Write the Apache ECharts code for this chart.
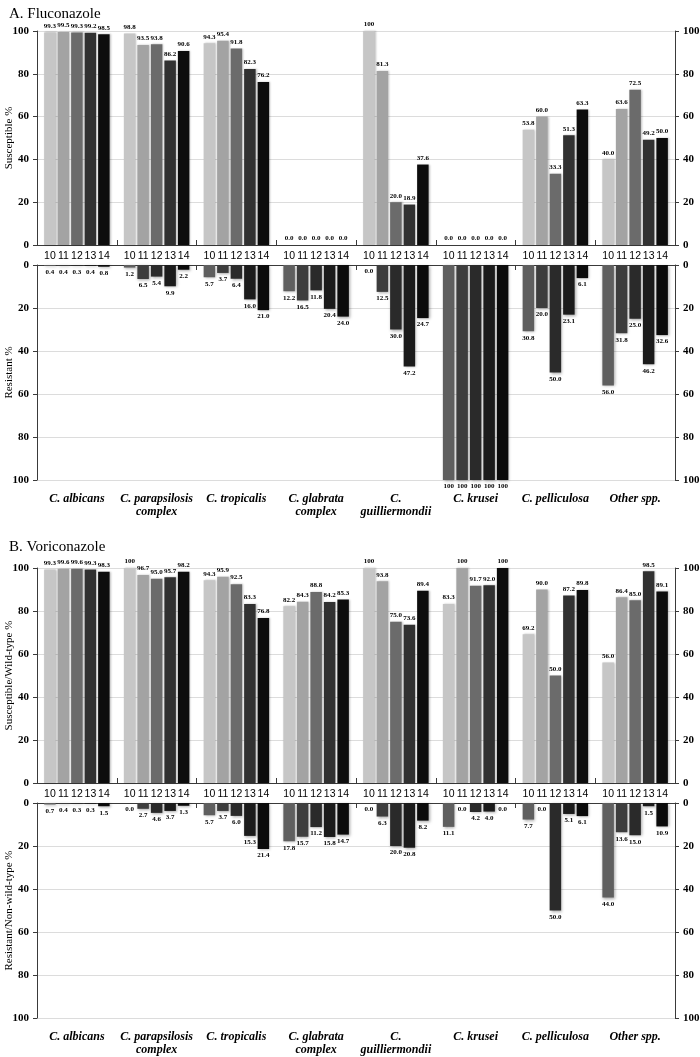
<!DOCTYPE html>
<html>
<head>
<meta charset="utf-8">
<script src="https://cdn.jsdelivr.net/npm/echarts@6/dist/echarts.min.js"></script>
<style>html,body{margin:0;padding:0;background:#fff}#c{width:700px;height:1057px}</style>
</head>
<body>
<div id="c"></div>
<script>
const years = ['10', '11', '12', '13', '14'];
const species = ['C. albicans', 'C. parapsilosis\ncomplex', 'C. tropicalis', 'C. glabrata\ncomplex',
  'C.\nguilliermondii', 'C. krusei', 'C. pelliculosa', 'Other spp.'];
const yTicks = [0, 20, 40, 60, 80, 100];

// values per species, years 10..14
const flcSusceptible = [
  [99.3, 99.5, 99.3, 99.2, 98.5],
  [98.8, 93.5, 93.8, 86.2, 90.6],
  [94.3, 95.4, 91.8, 82.3, 76.2],
  [0.0, 0.0, 0.0, 0.0, 0.0],
  [100, 81.3, 20.0, 18.9, 37.6],
  [0.0, 0.0, 0.0, 0.0, 0.0],
  [53.8, 60.0, 33.3, 51.3, 63.3],
  [40.0, 63.6, 72.5, 49.2, 50.0]
];
const flcResistant = [
  [0.4, 0.4, 0.3, 0.4, 0.8],
  [1.2, 6.5, 5.4, 9.9, 2.2],
  [5.7, 3.7, 6.4, 16.0, 21.0],
  [12.2, 16.5, 11.8, 20.4, 24.0],
  [0.0, 12.5, 30.0, 47.2, 24.7],
  [100, 100, 100, 100, 100],
  [30.8, 20.0, 50.0, 23.1, 6.1],
  [56.0, 31.8, 25.0, 46.2, 32.6]
];
const vrcSusceptible = [
  [99.3, 99.6, 99.6, 99.3, 98.3],
  [100, 96.7, 95.0, 95.7, 98.2],
  [94.3, 95.9, 92.5, 83.3, 76.8],
  [82.2, 84.3, 88.8, 84.2, 85.3],
  [100, 93.8, 75.0, 73.6, 89.4],
  [83.3, 100, 91.7, 92.0, 100],
  [69.2, 90.0, 50.0, 87.2, 89.8],
  [56.0, 86.4, 85.0, 98.5, 89.1]
];
const vrcResistant = [
  [0.7, 0.4, 0.3, 0.3, 1.5],
  [0.0, 2.7, 4.6, 3.7, 1.3],
  [5.7, 3.7, 6.0, 15.3, 21.4],
  [17.8, 15.7, 11.2, 15.8, 14.7],
  [0.0, 6.3, 20.0, 20.8, 8.2],
  [11.1, 0.0, 4.2, 4.0, 0.0],
  [7.7, 0.0, 50.0, 5.1, 6.1],
  [44.0, 13.6, 15.0, 1.5, 10.9]
];

const upperColors = ['#c6c6c6', '#a3a3a3', '#6b6b6b', '#313131', '#0d0d0d'];
const lowerColors = ['#5f5f5f', '#3d3d3d', '#2a2a2a', '#1b1b1b', '#0b0b0b'];

const SERIF = '"Liberation Serif", "Times New Roman", serif';
const SANS = '"Liberation Sans", Arial, sans-serif';
const BAR_W = 11.5, GAP = 2;

const panels = [
  { title: 'A. Fluconazole', titleTop: 2, upTop: 31, lowTop: 265, h: 214, hl: 215,
    sName: 'Susceptible %', rName: 'Resistant %', S: flcSusceptible, R: flcResistant },
  { title: 'B. Voriconazole', titleTop: 535, upTop: 568, lowTop: 803, h: 215, hl: 215,
    sName: 'Susceptible/Wild-type %', rName: 'Resistant/Non-wild-type %', S: vrcSusceptible, R: vrcResistant }
];

const fmt = p => (p.value === 100 ? '100' : p.value.toFixed(1));

const title = [], grid = [], xAxis = [], yAxis = [], series = [];

panels.forEach((P, p) => {
  title.push({ text: P.title, left: 4, top: P.titleTop,
    textStyle: { fontFamily: SERIF, fontSize: 15, fontWeight: 'normal', color: '#000' } });
  grid.push({ left: 37, right: 25, top: P.upTop, height: P.h, containLabel: false, outerBoundsMode: 'none' });
  grid.push({ left: 37, right: 25, top: P.lowTop, height: P.hl, containLabel: false, outerBoundsMode: 'none' });
  const gU = 2 * p, gL = 2 * p + 1;

  // x axes
  const xU = xAxis.length;
  xAxis.push({ type: 'category', gridIndex: gU, data: species, position: 'bottom',
    axisLine: { show: true, lineStyle: { color: '#3a3a3a', width: 1 } },
    axisTick: { show: true, inside: true, length: 5, lineStyle: { color: '#3a3a3a' } },
    axisLabel: { show: true, interval: 0, margin: 6,
      formatter: () => years.map(y => '{y|' + y + '}').join(''),
      rich: { y: { width: BAR_W + GAP, align: 'center', fontFamily: SANS, fontSize: 10.5, color: '#000' } } } });
  const xLtop = xAxis.length;
  xAxis.push({ type: 'category', gridIndex: gL, data: species, position: 'top',
    axisLine: { show: true, onZero: false, lineStyle: { color: '#3a3a3a', width: 1 } },
    axisTick: { show: true, inside: true, length: 5, lineStyle: { color: '#3a3a3a' } },
    axisLabel: { show: false } });
  xAxis.push({ type: 'category', gridIndex: gL, data: species, position: 'bottom',
    axisLine: { show: false, onZero: false }, axisTick: { show: false },
    axisLabel: { show: true, interval: 0, margin: 12, fontFamily: SERIF, fontSize: 12,
      fontWeight: 'bold', fontStyle: 'italic', color: '#000', lineHeight: 13 } });

  // y axes
  const yCommon = (gi, pos, inverse, name) => ({
    type: 'value', gridIndex: gi, position: pos, min: 0, max: 100, interval: 20, inverse: inverse,
    name: name || '', nameLocation: 'middle', nameGap: 22, nameMoveOverlap: false,
    nameTextStyle: { fontFamily: SERIF, fontSize: 11, color: '#000' },
    axisLine: { show: true, lineStyle: { color: '#3a3a3a' } },
    axisTick: { show: true, length: 4, lineStyle: { color: '#3a3a3a' } },
    axisLabel: { margin: 8, fontFamily: SERIF, fontSize: 11, fontWeight: 'bold', color: '#000',
      formatter: v => (yTicks.indexOf(v) >= 0 ? String(v) : '') },
    splitLine: { show: pos === 'left', lineStyle: { color: '#dcdcdc', width: 1 } }
  });
  const yU = yAxis.length;
  yAxis.push(yCommon(gU, 'left', false, P.sName));
  yAxis.push(yCommon(gU, 'right', false, ''));
  const yL = yAxis.length;
  yAxis.push(yCommon(gL, 'left', true, P.rName));
  yAxis.push(yCommon(gL, 'right', true, ''));

  years.forEach((yr, k) => {
    series.push({ type: 'bar', name: 'S' + yr, xAxisIndex: xU, yAxisIndex: yU,
      data: P.S.map(row => row[k]), barWidth: BAR_W, barGap: (GAP / BAR_W * 100) + '%',
      itemStyle: { color: upperColors[k], shadowBlur: 2, shadowColor: 'rgba(0,0,0,0.25)', shadowOffsetX: 1, shadowOffsetY: 0 },
      label: { show: true, position: 'top', distance: 3, formatter: fmt,
        fontFamily: SERIF, fontSize: 7, fontWeight: 'bold', color: '#000' },
      silent: true, animation: false });
    series.push({ type: 'bar', name: 'R' + yr, xAxisIndex: xLtop, yAxisIndex: yL,
      data: P.R.map(row => row[k]), barWidth: BAR_W, barGap: (GAP / BAR_W * 100) + '%',
      itemStyle: { color: lowerColors[k], shadowBlur: 3, shadowColor: 'rgba(0,0,0,0.35)', shadowOffsetX: 1, shadowOffsetY: 1 },
      label: { show: true, position: 'bottom', distance: 3, formatter: fmt,
        fontFamily: SERIF, fontSize: 7, fontWeight: 'bold', color: '#000' },
      silent: true, animation: false });
  });
});

const chart = echarts.init(document.getElementById('c'), null, { renderer: 'canvas' });
chart.setOption({ backgroundColor: '#fff', animation: false, title, grid, xAxis, yAxis, series });
</script>
</body>
</html>
